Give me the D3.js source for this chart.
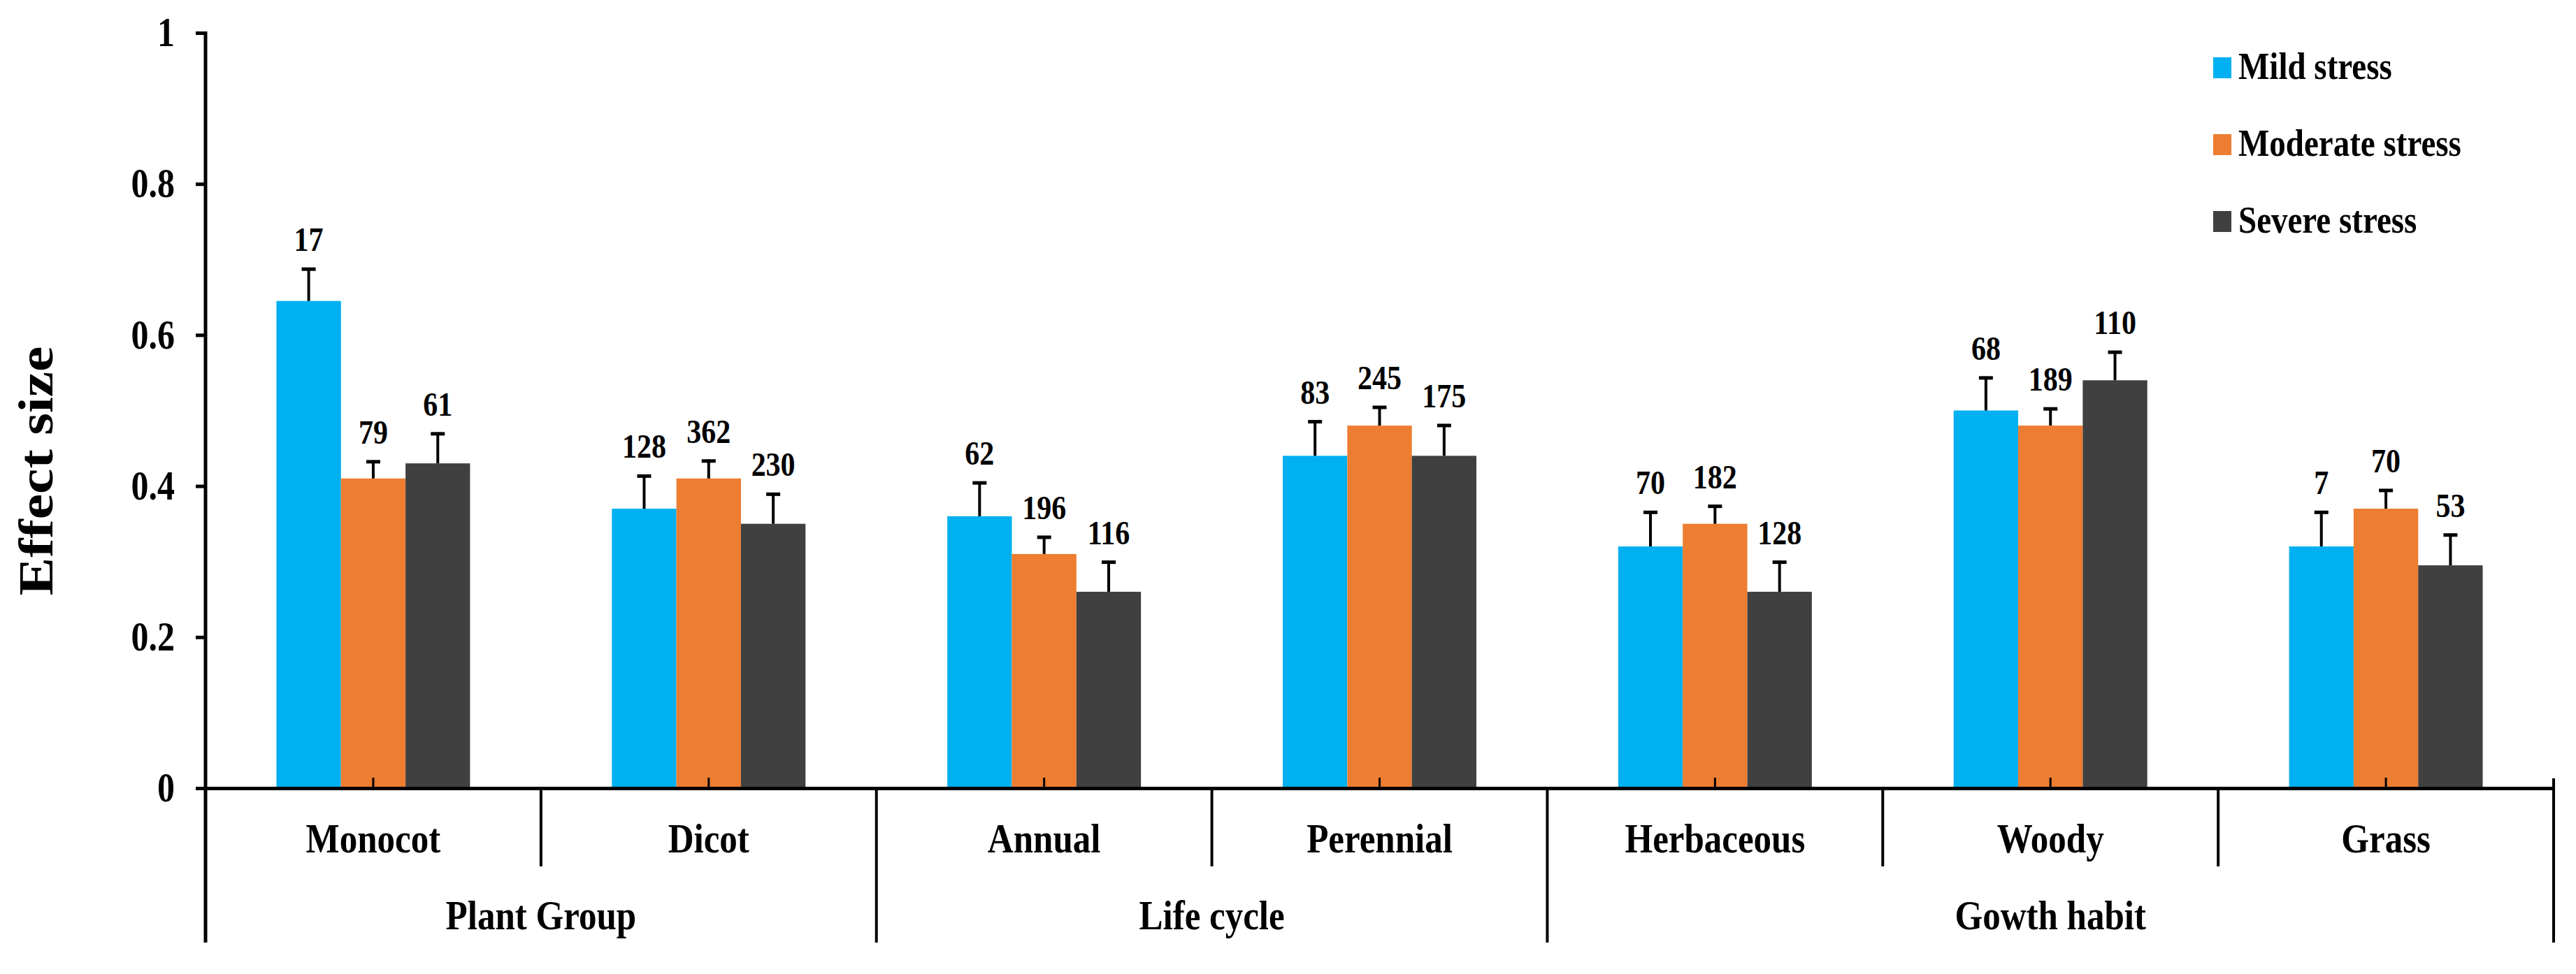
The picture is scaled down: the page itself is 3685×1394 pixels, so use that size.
<html>
<head>
<style>
  body { margin: 0; background: #fff; }
  text { font-family: "Liberation Serif", "Times New Roman", serif; font-weight: bold; fill: #000; }
</style>
</head>
<body>
<script src="https://cdn.jsdelivr.net/npm/d3@7"></script>
<script>
const categories = ["Monocot", "Dicot", "Annual", "Perennial", "Herbaceous", "Woody", "Grass"]
const groupNames = ["Plant Group", "Life cycle", "Gowth habit"]
const groupOf = [0, 0, 1, 1, 2, 2, 2]
const seriesNames = ["Mild stress", "Moderate stress", "Severe stress"]

const mildValues = [0.645, 0.37, 0.36, 0.44, 0.32, 0.50, 0.32]
const moderateValues = [0.41, 0.41, 0.31, 0.48, 0.35, 0.48, 0.37]
const severeValues = [0.43, 0.35, 0.26, 0.44, 0.26, 0.54, 0.295]

const mildErrors = [0.044, 0.045, 0.046, 0.047, 0.047, 0.045, 0.047]
const moderateErrors = [0.024, 0.025, 0.024, 0.026, 0.025, 0.024, 0.026]
const severeErrors = [0.041, 0.041, 0.041, 0.042, 0.041, 0.039, 0.042]

const mildCounts = [17, 128, 62, 83, 70, 68, 7]
const moderateCounts = [79, 362, 196, 245, 182, 189, 70]
const severeCounts = [61, 230, 116, 175, 128, 110, 53]

const yTicks = [0, 0.2, 0.4, 0.6, 0.8, 1]
const colors = ["#00B0F0", "#ED7D31", "#404040"]

const values = [mildValues, moderateValues, severeValues]
const errors = [mildErrors, moderateErrors, severeErrors]
const counts = [mildCounts, moderateCounts, severeCounts]

// layout
const W = 3685, H = 1394
const plotLeft = 294, plotRight = 3653, plotTop = 47, zeroY = 1128
const shortBottom = 1240, longBottom = 1349
const SY = 1.17   // the original figure is stretched vertically
const groupW = 277

const svg = d3.select("body").append("svg")
  .attr("width", W).attr("height", H)

svg.append("rect").attr("width", W).attr("height", H).attr("fill", "#fff")

const x = d3.scaleBand().domain(categories).range([plotLeft, plotRight])
const xs = d3.scaleBand().domain(seriesNames).range([0, groupW])
const gOff = (x.bandwidth() - groupW) / 2
const y = d3.scaleLinear().domain([0, 1]).range([zeroY, plotTop])

let rows = []
categories.forEach((c, i) => {
  seriesNames.forEach((s, j) => {
    rows.push({ c: c, s: s, j: j, v: values[j][i], e: errors[j][i], n: counts[j][i] })
  })
})
const cx = d => x(d.c) + gOff + xs(d.s) + xs.bandwidth() / 2

// bars
svg.append("g").selectAll("rect").data(rows).enter().append("rect")
  .attr("x", d => x(d.c) + gOff + xs(d.s))
  .attr("y", d => y(d.v))
  .attr("width", xs.bandwidth())
  .attr("height", d => zeroY - y(d.v))
  .attr("fill", d => colors[d.j])

// error bars
let eb = svg.append("g").selectAll("g").data(rows).enter().append("g")
eb.append("line")
  .attr("x1", cx).attr("x2", cx)
  .attr("y1", d => y(d.v)).attr("y2", d => y(d.v + d.e))
  .attr("stroke", "#000").attr("stroke-width", 4)
eb.append("line")
  .attr("x1", d => cx(d) - 10).attr("x2", d => cx(d) + 10)
  .attr("y1", d => y(d.v + d.e) + 2).attr("y2", d => y(d.v + d.e) + 2)
  .attr("stroke", "#000").attr("stroke-width", 5)

// sample sizes
svg.append("g").selectAll("text").data(rows).enter().append("text")
  .attr("text-anchor", "middle")
  .attr("font-size", 42)
  .attr("transform", d => `translate(${cx(d)},${y(d.v + d.e) - 24}) scale(1,${SY})`)
  .text(d => d.n)

// y axis
let yAxis = svg.append("g").attr("transform", `translate(${plotLeft},0)`)
  .call(d3.axisLeft(y).tickValues(yTicks).tickFormat(d3.format("~g"))
    .tickSize(14).tickSizeOuter(0).tickPadding(30))
yAxis.attr("font-family", null).attr("font-size", null)
yAxis.select(".domain").remove()
yAxis.selectAll(".tick line").attr("stroke", "#000").attr("stroke-width", 5)
yAxis.selectAll(".tick text")
  .attr("font-size", 50)
  .attr("transform", `scale(1,${SY})`)

svg.append("line")
  .attr("x1", plotLeft).attr("x2", plotLeft)
  .attr("y1", plotTop - 2).attr("y2", longBottom)
  .attr("stroke", "#000").attr("stroke-width", 5)

// x axis
let xAxis = svg.append("g").attr("transform", `translate(0,${zeroY})`)
  .call(d3.axisBottom(x).tickSizeInner(-15).tickSizeOuter(0).tickPadding(0))
xAxis.attr("font-family", null).attr("font-size", null)
xAxis.select(".domain").attr("stroke", "#000").attr("stroke-width", 5)
xAxis.selectAll(".tick line").attr("stroke", "#000").attr("stroke-width", 3)
xAxis.selectAll(".tick text")
  .attr("font-size", 51)
  .attr("y", 0).attr("dy", null)
  .attr("transform", `translate(0,92) scale(1,${SY})`)

// separators under the axis
let seps = []
categories.forEach((c, i) => {
  if (i == 0) return
  seps.push({ x: x(c), long: groupOf[i] != groupOf[i - 1] })
})
svg.append("g").selectAll("line").data(seps).enter().append("line")
  .attr("x1", d => d.x).attr("x2", d => d.x)
  .attr("y1", zeroY).attr("y2", d => d.long ? longBottom : shortBottom)
  .attr("stroke", "#000").attr("stroke-width", 4)
svg.append("line")
  .attr("x1", plotRight).attr("x2", plotRight)
  .attr("y1", zeroY - 14).attr("y2", longBottom)
  .attr("stroke", "#000").attr("stroke-width", 4)

// group labels
svg.append("g").selectAll("text").data(groupNames).enter().append("text")
  .attr("text-anchor", "middle")
  .attr("font-size", 51)
  .attr("transform", (g, k) => {
    let members = categories.filter((c, i) => groupOf[i] == k)
    let mid = (x(members[0]) + x(members[members.length - 1]) + x.bandwidth()) / 2
    return `translate(${mid},1330) scale(1,${SY})`
  })
  .text(g => g)

// y title
svg.append("text")
  .attr("text-anchor", "middle")
  .attr("font-size", 70)
  .attr("transform", `translate(75,674) scale(1,${SY}) rotate(-90)`)
  .text("Effect size")

// legend
let leg = svg.append("g").selectAll("g").data(seriesNames).enter().append("g")
  .attr("transform", (d, i) => `translate(3166,${82 + i * 110})`)
leg.append("rect")
  .attr("width", 26).attr("height", 30)
  .attr("fill", (d, i) => colors[i])
leg.append("text")
  .attr("font-size", 47)
  .attr("transform", `translate(36,31) scale(1,${SY})`)
  .text(d => d)
</script>
</body>
</html>
